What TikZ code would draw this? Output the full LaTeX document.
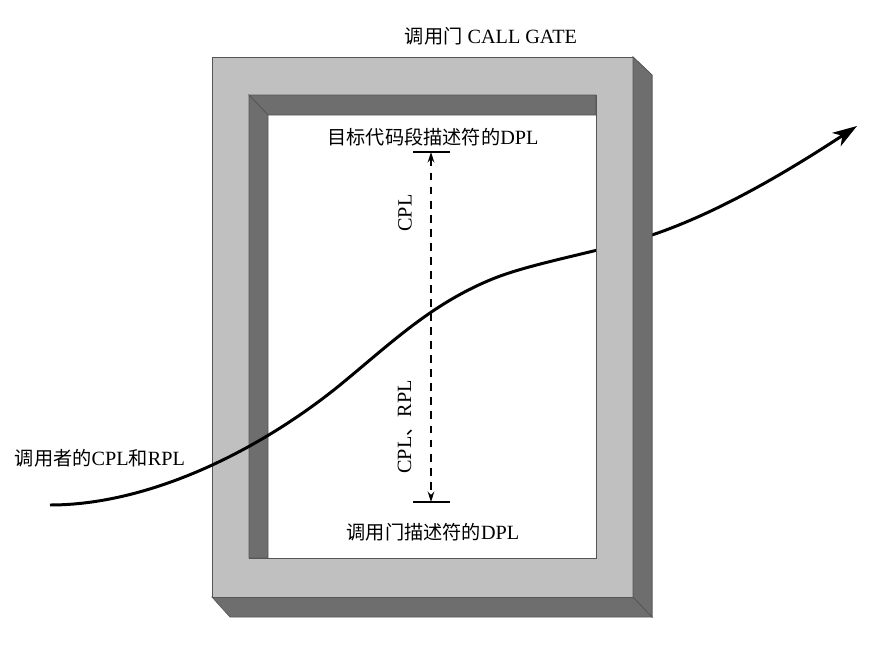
\documentclass[tikz,border=0pt]{standalone}
\usepackage{fontspec}
\setmainfont{Liberation Serif}
\newfontfamily\cjk[Scale=0.95]{Noto Sans CJK SC}
\usetikzlibrary{arrows.meta}
\definecolor{frontgray}{RGB}{192,192,192}
\definecolor{sidegray}{RGB}{110,110,110}
\definecolor{edgegray}{RGB}{85,85,85}

\begin{document}
\begin{tikzpicture}[x=0.02cm, y=-0.02cm, font=\fontsize{11.5}{13}\selectfont,
    face/.style={fill=frontgray, draw=edgegray, line width=0.4pt},
    wall/.style={fill=sidegray, draw=edgegray, line width=0.4pt},
    levelbar/.style={line width=0.9pt},
    flowline/.style={line width=1.7pt, -{Stealth[length=14pt, width=9pt, inset=4pt]}}]
                \useasboundingbox (0,0) rectangle (893,646);

                % Gate frame: side faces
                \draw[wall] (633,57) -- (652,75) -- (652,617) -- (633,597) -- cycle;
                \draw[wall] (212,597) -- (633,597) -- (652,617) -- (230,617) -- cycle;

                % Gate frame: front face with opening
                \draw[face, even odd rule] (212,57) rectangle (633,597) (249,95) rectangle (596,558);

                % Inner walls of the opening
                \draw[wall] (249,95) -- (596,95) -- (596,115) -- (268,115) -- cycle;
                \draw[wall] (249,95) -- (268,115) -- (268,558) -- (249,558) -- cycle;

                % Labels
                \node (title) at (491,36) {{\cjk 调用门} CALL GATE};
                \node (tgtdpl) at (433,137) {{\cjk 目标代码段描述符的}DPL};
                \node (gatedpl) at (433,532) {{\cjk 调用门描述符的}DPL};
                \node (caller) at (100,458) {{\cjk 调用者的}CPL{\cjk 和}RPL};
                \node[rotate=90] (cpl) at (405,213) {CPL};
                \node[rotate=90] (cplrpl) at (405,427) {CPL{\cjk 、}RPL};

                % Level bars and dashed range
                \coordinate (topbar) at (431,152);
                \coordinate (botbar) at (431,502);
                \draw[levelbar] (topbar) ++(-18,0) -- ++(37,0);
                \draw[levelbar] (botbar) ++(-18,0) -- ++(37,0);
                \draw[line width=0.8pt, dash pattern=on 4.5pt off 3.5pt,
                      {Stealth[length=6pt, width=3.8pt]}-{Stealth[length=6pt, width=3.8pt]}]
                      (topbar) -- (botbar);

                % Call path through the gate
                \coordinate (pathstart) at (50,505);
                \coordinate (pathend) at (857,126);
                \draw[flowline] (pathstart) .. controls (150,505) and (260,450) .. (340,385)
                      .. controls (390,344) and (430,305) .. (490,280)
                      .. controls (530,263) and (600,252) .. (652,235)
                      .. controls (720,212) and (790,170) .. (pathend);

                % Right pillar redrawn in front of the path
                \fill[frontgray] (596.3,100) rectangle (632.7,550);
                \draw[edgegray, line width=0.4pt] (596,95) -- (596,558);
                \draw[wall] (633,57) -- (652,75) -- (652,617) -- (633,597) -- cycle;
            \end{tikzpicture}
\end{document}
